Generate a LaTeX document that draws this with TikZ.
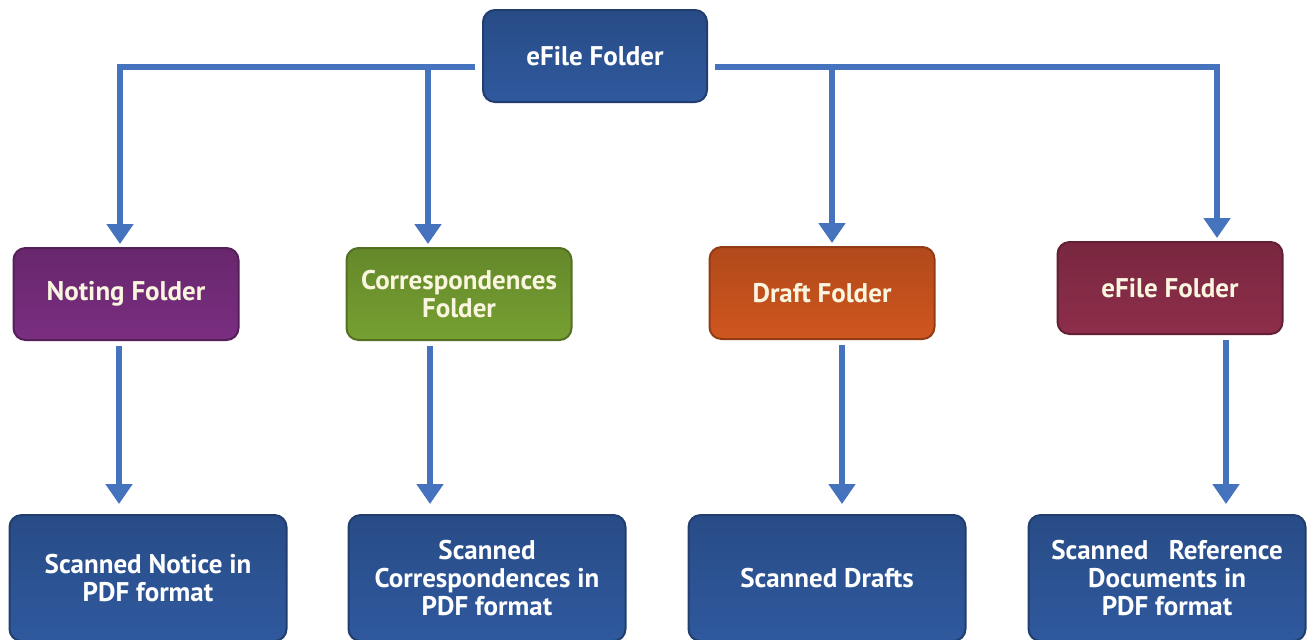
\documentclass[tikz,border=0pt]{standalone}
\usepackage{fontspec}
\setsansfont{PT Sans}
\usetikzlibrary{arrows.meta}

\definecolor{linkblue}{RGB}{70,115,190}
\definecolor{scanblue}{RGB}{47,89,158}
\definecolor{notingpurple}{RGB}{122,46,128}
\definecolor{corrgreen}{RGB}{118,160,50}
\definecolor{draftorange}{RGB}{208,86,31}
\definecolor{efilered}{RGB}{142,46,75}
\definecolor{cream}{RGB}{250,245,222}

\begin{document}
\begin{tikzpicture}[x=0.5pt, y=-0.5pt,
    box/.style={rounded corners=6pt, draw=#1!70!black, line width=1pt,
        top color=#1!85!black, middle color=#1!80!white, bottom color=#1,
        text=white, align=center, inner sep=0pt,
        font=\sffamily\bfseries\fontsize{13.5}{14}\selectfont},
    folder/.style={box=#1, minimum width=112.5pt, minimum height=46pt, text=cream},
    scan/.style={box=scanblue, minimum width=138.5pt, minimum height=63pt},
    link/.style={line width=3.4pt, draw=linkblue,
        -{Triangle[width=13pt, length=10pt]}}
]
    \useasboundingbox (0,0) rectangle (1309,639);

    \node[box=scanblue, minimum width=112pt, minimum height=46pt] (top) at (595,56) {eFile Folder};

    \node[folder=notingpurple] (noting) at (126,294) {Noting Folder};
    \node[folder=corrgreen] (corr) at (459,294) {Correspondences\\Folder};
    \node[folder=draftorange] (draft) at (822,293) {Draft Folder};
    \node[folder=efilered] (efile) at (1170,288) {eFile Folder};

    \node[scan] (scannotice) at (148,578) {Scanned Notice in\\PDF format};
    \node[scan] (scancorr) at (487,578) {Scanned\\Correspondences in\\PDF format};
    \node[scan] (scandraft) at (827,578) {Scanned Drafts};
    \node[scan] (scanref) at (1167,578) {Scanned\ \ \ Reference\\Documents in\\PDF format};

    \draw[link, shorten <=3.5pt, shorten >=1.5pt] ([yshift=-5.5pt]top.west) -| ([xshift=-3pt]noting.north);
    \draw[link, shorten <=3.5pt, shorten >=1.5pt] ([yshift=-5.5pt]top.west) -| ([xshift=-15.5pt]corr.north);
    \draw[link, shorten <=3.5pt, shorten >=1.5pt] ([yshift=-5.5pt]top.east) -| ([xshift=5pt]draft.north);
    \draw[link, shorten <=3.5pt, shorten >=1.5pt] ([yshift=-5.5pt]top.east) -| ([xshift=23.5pt]efile.north);

    \draw[link, shorten <=2.5pt, shorten >=5pt] ([xshift=-3.5pt]noting.south) -- ([xshift=-3.5pt]noting.south |- scannotice.north);
    \draw[link, shorten <=2.5pt, shorten >=5pt] ([xshift=-14.5pt]corr.south) -- ([xshift=-14.5pt]corr.south |- scancorr.north);
    \draw[link, shorten <=2.5pt, shorten >=5pt] ([xshift=10pt]draft.south) -- ([xshift=10pt]draft.south |- scandraft.north);
    \draw[link, shorten <=2.5pt, shorten >=5pt] ([xshift=28pt]efile.south) -- ([xshift=28pt]efile.south |- scanref.north);
\end{tikzpicture}
\end{document}
